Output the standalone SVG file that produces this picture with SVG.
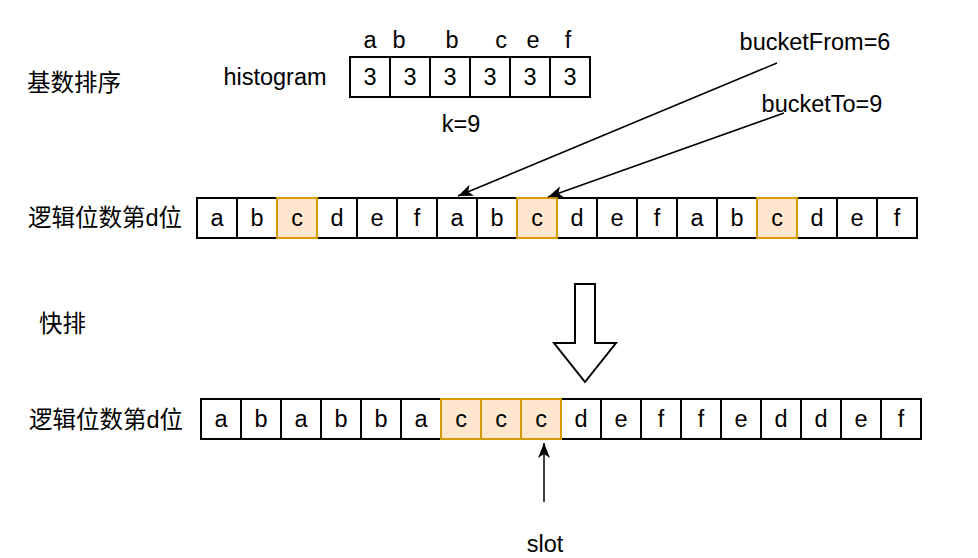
<svg xmlns="http://www.w3.org/2000/svg" width="978" height="558" viewBox="0 0 978 558">
<defs>
<style>
text{font-family:"Liberation Sans","Noto Sans CJK SC",Arial,sans-serif;font-size:23.5px;fill:#000}
.c{text-anchor:middle}
.cj{font-size:23.5px}
.box{fill:#fff;stroke:#000;stroke-width:2}
.hl{fill:#ffe6cc;stroke:#d79b00;stroke-width:2}
.edge{fill:none;stroke:#000;stroke-width:1.5}
</style>
<marker id="ah" markerUnits="userSpaceOnUse" markerWidth="16" markerHeight="12" viewBox="0 0 16 12" refX="15" refY="6" orient="auto">
<path d="M0,0 L15,6 L0,12 L4,6 Z" fill="#000"/>
</marker>
</defs>
<rect width="978" height="558" fill="#fff"/>

<g id="labels">
<text class="cj" x="27" y="91">基数排序</text>
<text class="cj" x="39" y="332">快排</text>
<text class="cj" x="28" y="226">逻辑位数第d位</text>
<text class="cj" x="29" y="428">逻辑位数第d位</text>
<text class="c" x="275" y="85">histogram</text>
<text class="c" x="461" y="132">k=9</text>
<text class="c" x="815" y="50">bucketFrom=6</text>
<text class="c" x="822" y="112">bucketTo=9</text>
<text class="c" x="545" y="552">slot</text>
<text class="c" x="370" y="48">a</text>
<text class="c" x="399" y="48">b</text>
<text class="c" x="452" y="48">b</text>
<text class="c" x="501" y="48">c</text>
<text class="c" x="533" y="48">e</text>
<text class="c" x="568" y="48">f</text>
</g>

<g id="histogram">
<rect class="box" x="350" y="57" width="40" height="40"/><text class="c" x="370" y="85">3</text>
<rect class="box" x="390" y="57" width="40" height="40"/><text class="c" x="410" y="85">3</text>
<rect class="box" x="430" y="57" width="40" height="40"/><text class="c" x="450" y="85">3</text>
<rect class="box" x="470" y="57" width="40" height="40"/><text class="c" x="490" y="85">3</text>
<rect class="box" x="510" y="57" width="40" height="40"/><text class="c" x="530" y="85">3</text>
<rect class="box" x="550" y="57" width="40" height="40"/><text class="c" x="570" y="85">3</text>
</g>

<g id="row1">
<rect class="box" x="197" y="198" width="40" height="40"/><text class="c" x="217" y="226">a</text>
<rect class="box" x="237" y="198" width="40" height="40"/><text class="c" x="257" y="226">b</text>
<rect class="box" x="317" y="198" width="40" height="40"/><text class="c" x="337" y="226">d</text>
<rect class="box" x="357" y="198" width="40" height="40"/><text class="c" x="377" y="226">e</text>
<rect class="box" x="397" y="198" width="40" height="40"/><text class="c" x="417" y="226">f</text>
<rect class="box" x="437" y="198" width="40" height="40"/><text class="c" x="457" y="226">a</text>
<rect class="box" x="477" y="198" width="40" height="40"/><text class="c" x="497" y="226">b</text>
<rect class="box" x="557" y="198" width="40" height="40"/><text class="c" x="577" y="226">d</text>
<rect class="box" x="597" y="198" width="40" height="40"/><text class="c" x="617" y="226">e</text>
<rect class="box" x="637" y="198" width="40" height="40"/><text class="c" x="657" y="226">f</text>
<rect class="box" x="677" y="198" width="40" height="40"/><text class="c" x="697" y="226">a</text>
<rect class="box" x="717" y="198" width="40" height="40"/><text class="c" x="737" y="226">b</text>
<rect class="box" x="797" y="198" width="40" height="40"/><text class="c" x="817" y="226">d</text>
<rect class="box" x="837" y="198" width="40" height="40"/><text class="c" x="857" y="226">e</text>
<rect class="box" x="877" y="198" width="40" height="40"/><text class="c" x="897" y="226">f</text>
<rect class="hl" x="277" y="198" width="40" height="40"/><text class="c" x="297" y="226">c</text>
<rect class="hl" x="517" y="198" width="40" height="40"/><text class="c" x="537" y="226">c</text>
<rect class="hl" x="757" y="198" width="40" height="40"/><text class="c" x="777" y="226">c</text>
</g>

<g id="row2">
<rect class="box" x="201" y="399" width="40" height="40"/><text class="c" x="221" y="427">a</text>
<rect class="box" x="241" y="399" width="40" height="40"/><text class="c" x="261" y="427">b</text>
<rect class="box" x="281" y="399" width="40" height="40"/><text class="c" x="301" y="427">a</text>
<rect class="box" x="321" y="399" width="40" height="40"/><text class="c" x="341" y="427">b</text>
<rect class="box" x="361" y="399" width="40" height="40"/><text class="c" x="381" y="427">b</text>
<rect class="box" x="401" y="399" width="40" height="40"/><text class="c" x="421" y="427">a</text>
<rect class="box" x="561" y="399" width="40" height="40"/><text class="c" x="581" y="427">d</text>
<rect class="box" x="601" y="399" width="40" height="40"/><text class="c" x="621" y="427">e</text>
<rect class="box" x="641" y="399" width="40" height="40"/><text class="c" x="661" y="427">f</text>
<rect class="box" x="681" y="399" width="40" height="40"/><text class="c" x="701" y="427">f</text>
<rect class="box" x="721" y="399" width="40" height="40"/><text class="c" x="741" y="427">e</text>
<rect class="box" x="761" y="399" width="40" height="40"/><text class="c" x="781" y="427">d</text>
<rect class="box" x="801" y="399" width="40" height="40"/><text class="c" x="821" y="427">d</text>
<rect class="box" x="841" y="399" width="40" height="40"/><text class="c" x="861" y="427">e</text>
<rect class="box" x="881" y="399" width="40" height="40"/><text class="c" x="901" y="427">f</text>
<rect class="hl" x="441" y="399" width="40" height="40"/><text class="c" x="461" y="427">c</text>
<rect class="hl" x="481" y="399" width="40" height="40"/><text class="c" x="501" y="427">c</text>
<rect class="hl" x="521" y="399" width="40" height="40"/><text class="c" x="541" y="427">c</text>
</g>

<g id="bigArrow">
<polygon points="575,284 595,284 595,343 616,343 585,382 554,343 575,343" fill="#fff" stroke="#000" stroke-width="2"/>
</g>

<g id="connectors">
<path class="edge" d="M777,63 L458,196" marker-end="url(#ah)"/>
<path class="edge" d="M784,113 L548,197" marker-end="url(#ah)"/>
<path class="edge" d="M544,502 L544,443" marker-end="url(#ah)"/>
</g>
</svg>
